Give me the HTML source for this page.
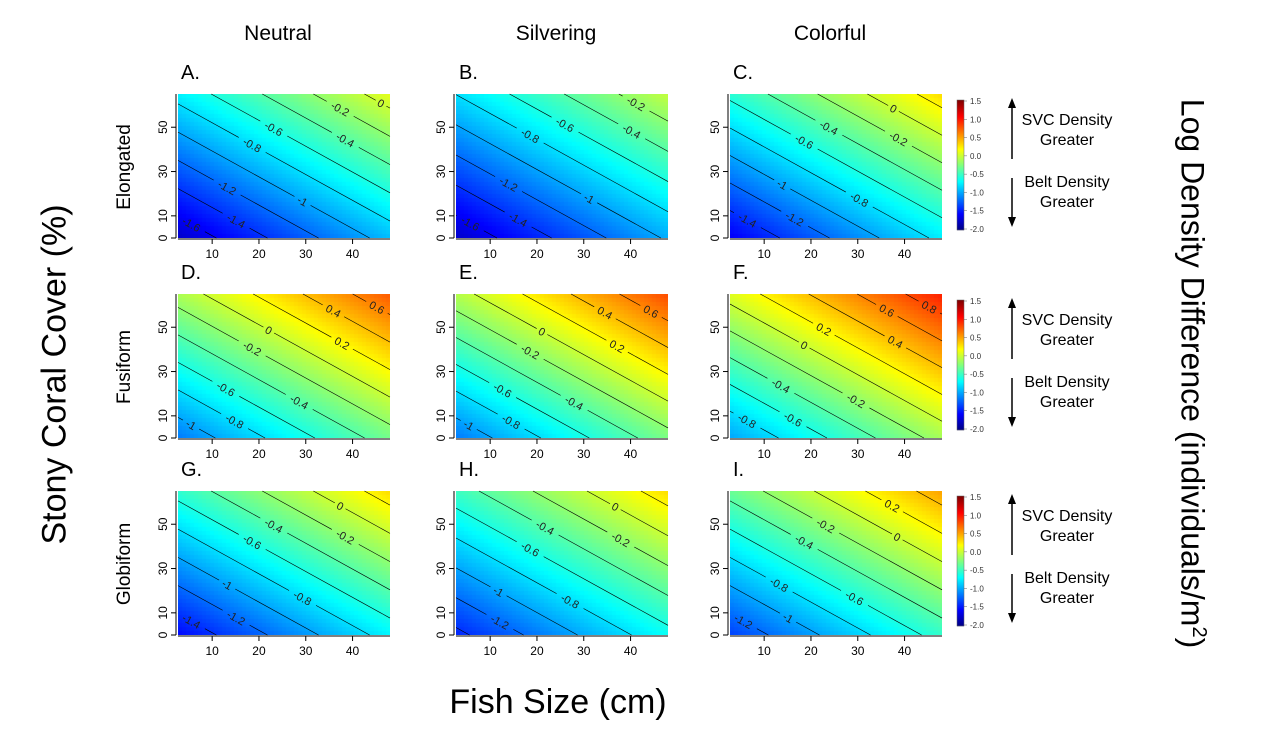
<!DOCTYPE html>
<html><head><meta charset="utf-8">
<style>
body{margin:0;background:#fff;font-family:"Liberation Sans",sans-serif;}
#root{position:relative;width:1278px;height:747px;overflow:hidden;background:#fff;}
canvas{position:absolute;}
svg{position:absolute;left:0;top:0;}
.t{position:absolute;white-space:nowrap;color:#000;}
</style></head><body>
<div id="root">
<svg id="ov" width="1278" height="747"></svg>
</div>
<script>
// panel data: z at bottom-left (size 3, cover 0) and top-right (size 48, cover 65)
const panelLetters=["A.","B.","C.","D.","E.","F.","G.","H.","I."];
const lowValues=[-1.75,-1.75,-1.6,-1.15,-1.15,-1.0,-1.55,-1.45,-1.35];
const highValues=[0.1,-0.02,0.3,0.75,0.8,0.95,0.3,0.3,0.5];
const xTicks=[10,20,30,40];
const yTicks=[0,10,30,50];
const colTitles=["Neutral","Silvering","Colorful"];
const rowTitles=["Elongated","Fusiform","Globiform"];
const cbTicks=["1.5","1.0","0.5","0.0","-0.5","-1.0","-1.5","-2.0"];

const root=document.getElementById('root');
const ov=document.getElementById('ov');
const NS='http://www.w3.org/2000/svg';
const colX=[178,456,730], rowY=[94,294,491], PW=212, PH=144;
const XMIN=2.7,XMAX=48,YMIN=0,YMAX=65;
const W1=0.83,W2=1.02;
function jet(t){t=Math.max(0,Math.min(1,t));
 const r=Math.max(0,Math.min(1,1.5-Math.abs(4*t-3))),g=Math.max(0,Math.min(1,1.5-Math.abs(4*t-2))),b=Math.max(0,Math.min(1,1.5-Math.abs(4*t-1)));
 return [r*255|0,g*255|0,b*255|0];}
function cz(z){return jet((z+2)/3.5);}
function el(tag,attrs,parent){const e=document.createElementNS(NS,tag);for(const k in attrs)e.setAttribute(k,attrs[k]);(parent||ov).appendChild(e);return e;}
function txt(s,x,y,size,extra){const d=document.createElement('div');d.className='t';d.textContent=s;d.style.left=x+'px';d.style.top=y+'px';d.style.fontSize=size+'px';if(extra)Object.assign(d.style,extra);root.appendChild(d);return d;}

for(let i=0;i<9;i++){
 const c=i%3,r=Math.floor(i/3),X=colX[c],Y=rowY[r];
 const lo=lowValues[i],hi=highValues[i];
 const g=el('g',{});
 
 
 const cv=document.createElement('canvas');cv.width=PW;cv.height=PH;cv.style.left=X+'px';cv.style.top=Y+'px';
 
 
 root.insertBefore(cv,ov);
 const ctx=cv.getContext('2d');const im=ctx.createImageData(PW,PH);
 for(let py=0;py<PH;py++)for(let px=0;px<PW;px++){
  const u=Math.floor(px/4)*4/PW,v=1-Math.floor(py/4)*4/PH;
  const z=lo+(hi-lo)*(W1*u+W2*v)/(W1+W2);const col=cz(z);const k=(py*PW+px)*4;
  im.data[k]=col[0];im.data[k+1]=col[1];im.data[k+2]=col[2];im.data[k+3]=255;}
 ctx.putImageData(im,0,0);
 // contours
 let n=0;
 for(let L=-2;L<=1.5001;L+=0.2){
  const Lr=Math.round(L*10)/10;const s=(Lr-lo)/(hi-lo);if(s<=0.01||s>=0.99)continue;
  const S=s*(W1+W2);const pts=[];
  [[0,(S)/W2],[1,(S-W1)/W2]].forEach(([u,v])=>{if(v>=0&&v<=1)pts.push([u,v]);});
  [[(S)/W1,0],[(S-W2)/W1,1]].forEach(([u,v])=>{if(u>=0&&u<=1)pts.push([u,v]);});
  if(pts.length<2)continue;
  const p1=[X+pts[0][0]*PW,Y+(1-pts[0][1])*PH],p2=[X+pts[1][0]*PW,Y+(1-pts[1][1])*PH];
  const dx=p2[0]-p1[0],dy=p2[1]-p1[1],len=Math.hypot(dx,dy);
  const label=(Lr===0?"0":String(Lr));
  const lw=label.length*6.2+6;const t=0.35+0.3*(n%2);n++;
  if(len<lw+10){el('line',{x1:p1[0],y1:p1[1],x2:p2[0],y2:p2[1],stroke:'#000','stroke-width':0.6},g);continue;}
  const ta=t-lw/2/len,tb=t+lw/2/len;
  el('line',{x1:p1[0],y1:p1[1],x2:p1[0]+dx*ta,y2:p1[1]+dy*ta,stroke:'#000','stroke-width':0.6},g);
  el('line',{x1:p1[0]+dx*tb,y1:p1[1]+dy*tb,x2:p2[0],y2:p2[1],stroke:'#000','stroke-width':0.6},g);
  let ang=Math.atan2(dy,dx)*180/Math.PI;if(ang>90)ang-=180;if(ang<-90)ang+=180;
  const cx=p1[0]+dx*t,cy=p1[1]+dy*t;
  const tt=el('text',{x:cx,y:cy+4,'font-size':11,'text-anchor':'middle','font-family':'Liberation Sans, sans-serif',fill:'#222',transform:`rotate(${ang} ${cx} ${cy})`},g);
  tt.textContent=label;
 }
 // axes
 el('line',{x1:X,y1:Y+PH+1,x2:X+PW,y2:Y+PH+1,stroke:'#000','stroke-width':1},g);
 el('line',{x1:X-2,y1:Y,x2:X-2,y2:Y+PH,stroke:'#000','stroke-width':1},g);
 xTicks.forEach(v=>{const x=X+(v-XMIN)/(XMAX-XMIN)*PW;
  el('line',{x1:x,y1:Y+PH+1,x2:x,y2:Y+PH+6,stroke:'#000'},g);
  const t=el('text',{x:x,y:Y+PH+20,'font-size':12,'text-anchor':'middle','font-family':'Liberation Sans, sans-serif'},g);t.textContent=v;});
 yTicks.forEach(v=>{const y=Y+PH-(v-YMIN)/(YMAX-YMIN)*PH;
  el('line',{x1:X-2,y1:y,x2:X-7,y2:y,stroke:'#000'},g);
  const t=el('text',{x:X-11,y:y,'font-size':12,'text-anchor':'middle','font-family':'Liberation Sans, sans-serif',transform:`rotate(-90 ${X-11} ${y})`},g);t.textContent=v;});
 const pl=txt(panelLetters[i],X+3,Y-32,20);
 
}
colTitles.forEach((s,c)=>{const d=txt(s,colX[c]+PW/2-6,22,21,{transform:'translateX(-50%)'});
 });
rowTitles.forEach((s,r)=>{const d=txt(s,125,rowY[r]+PH/2-10,19,{transform:'translateX(-50%) rotate(-90deg)'});
 });
// colorbars + legends
[100,300,496].forEach((y0,r)=>{
 const g=el('g',{});
 
 
 const h=130;
 for(let k=0;k<h;k++){const z=1.5-3.5*k/h;const c=cz(z);el('rect',{x:957,y:y0+k,width:7,height:1.2,fill:`rgb(${c[0]},${c[1]},${c[2]})`},g);}
 el('rect',{x:957,y:y0,width:7,height:h,fill:'none',stroke:'#666','stroke-width':0.5},g);
 cbTicks.forEach((s,k)=>{const y=y0+1+k*(h-2)/7;el('line',{x1:964,y1:y,x2:967,y2:y,stroke:'#666','stroke-width':0.5},g);
  const t=el('text',{x:970,y:y+3,'font-size':8,'font-family':'Liberation Sans, sans-serif',fill:'#333'},g);t.textContent=s;});
 el('line',{x1:1012,y1:y0+59,x2:1012,y2:y0+5,stroke:'#000','stroke-width':1.5},g);
 el('polygon',{points:`1008,${y0+8} 1016,${y0+8} 1012,${y0-2}`,fill:'#000'},g);
 el('line',{x1:1012,y1:y0+78,x2:1012,y2:y0+120,stroke:'#000','stroke-width':1.5},g);
 el('polygon',{points:`1008,${y0+117} 1016,${y0+117} 1012,${y0+127}`,fill:'#000'},g);
 [["SVC Density",10],["Greater",30],["Belt Density",72],["Greater",92]].forEach(([s,dy])=>{
  const t=el('text',{x:1067,y:y0+dy+15,'font-size':16,'text-anchor':'middle','font-family':'Liberation Sans, sans-serif'},g);t.textContent=s;});
});
let d=txt("Stony Coral Cover (%)",55,355,34,{transform:'translateX(-50%) rotate(-90deg)'});

d=txt("Fish Size (cm)",558,683,34,{transform:'translateX(-50%)'});

d=document.createElement('div');d.className='t';d.innerHTML='Log Density Difference (individuals/m<sup style="font-size:20px">2</sup>)';
d.style.left='1192px';d.style.top='355px';d.style.fontSize='32px';d.style.transform='translateX(-50%) rotate(90deg)';root.appendChild(d);

</script>
</body></html>
